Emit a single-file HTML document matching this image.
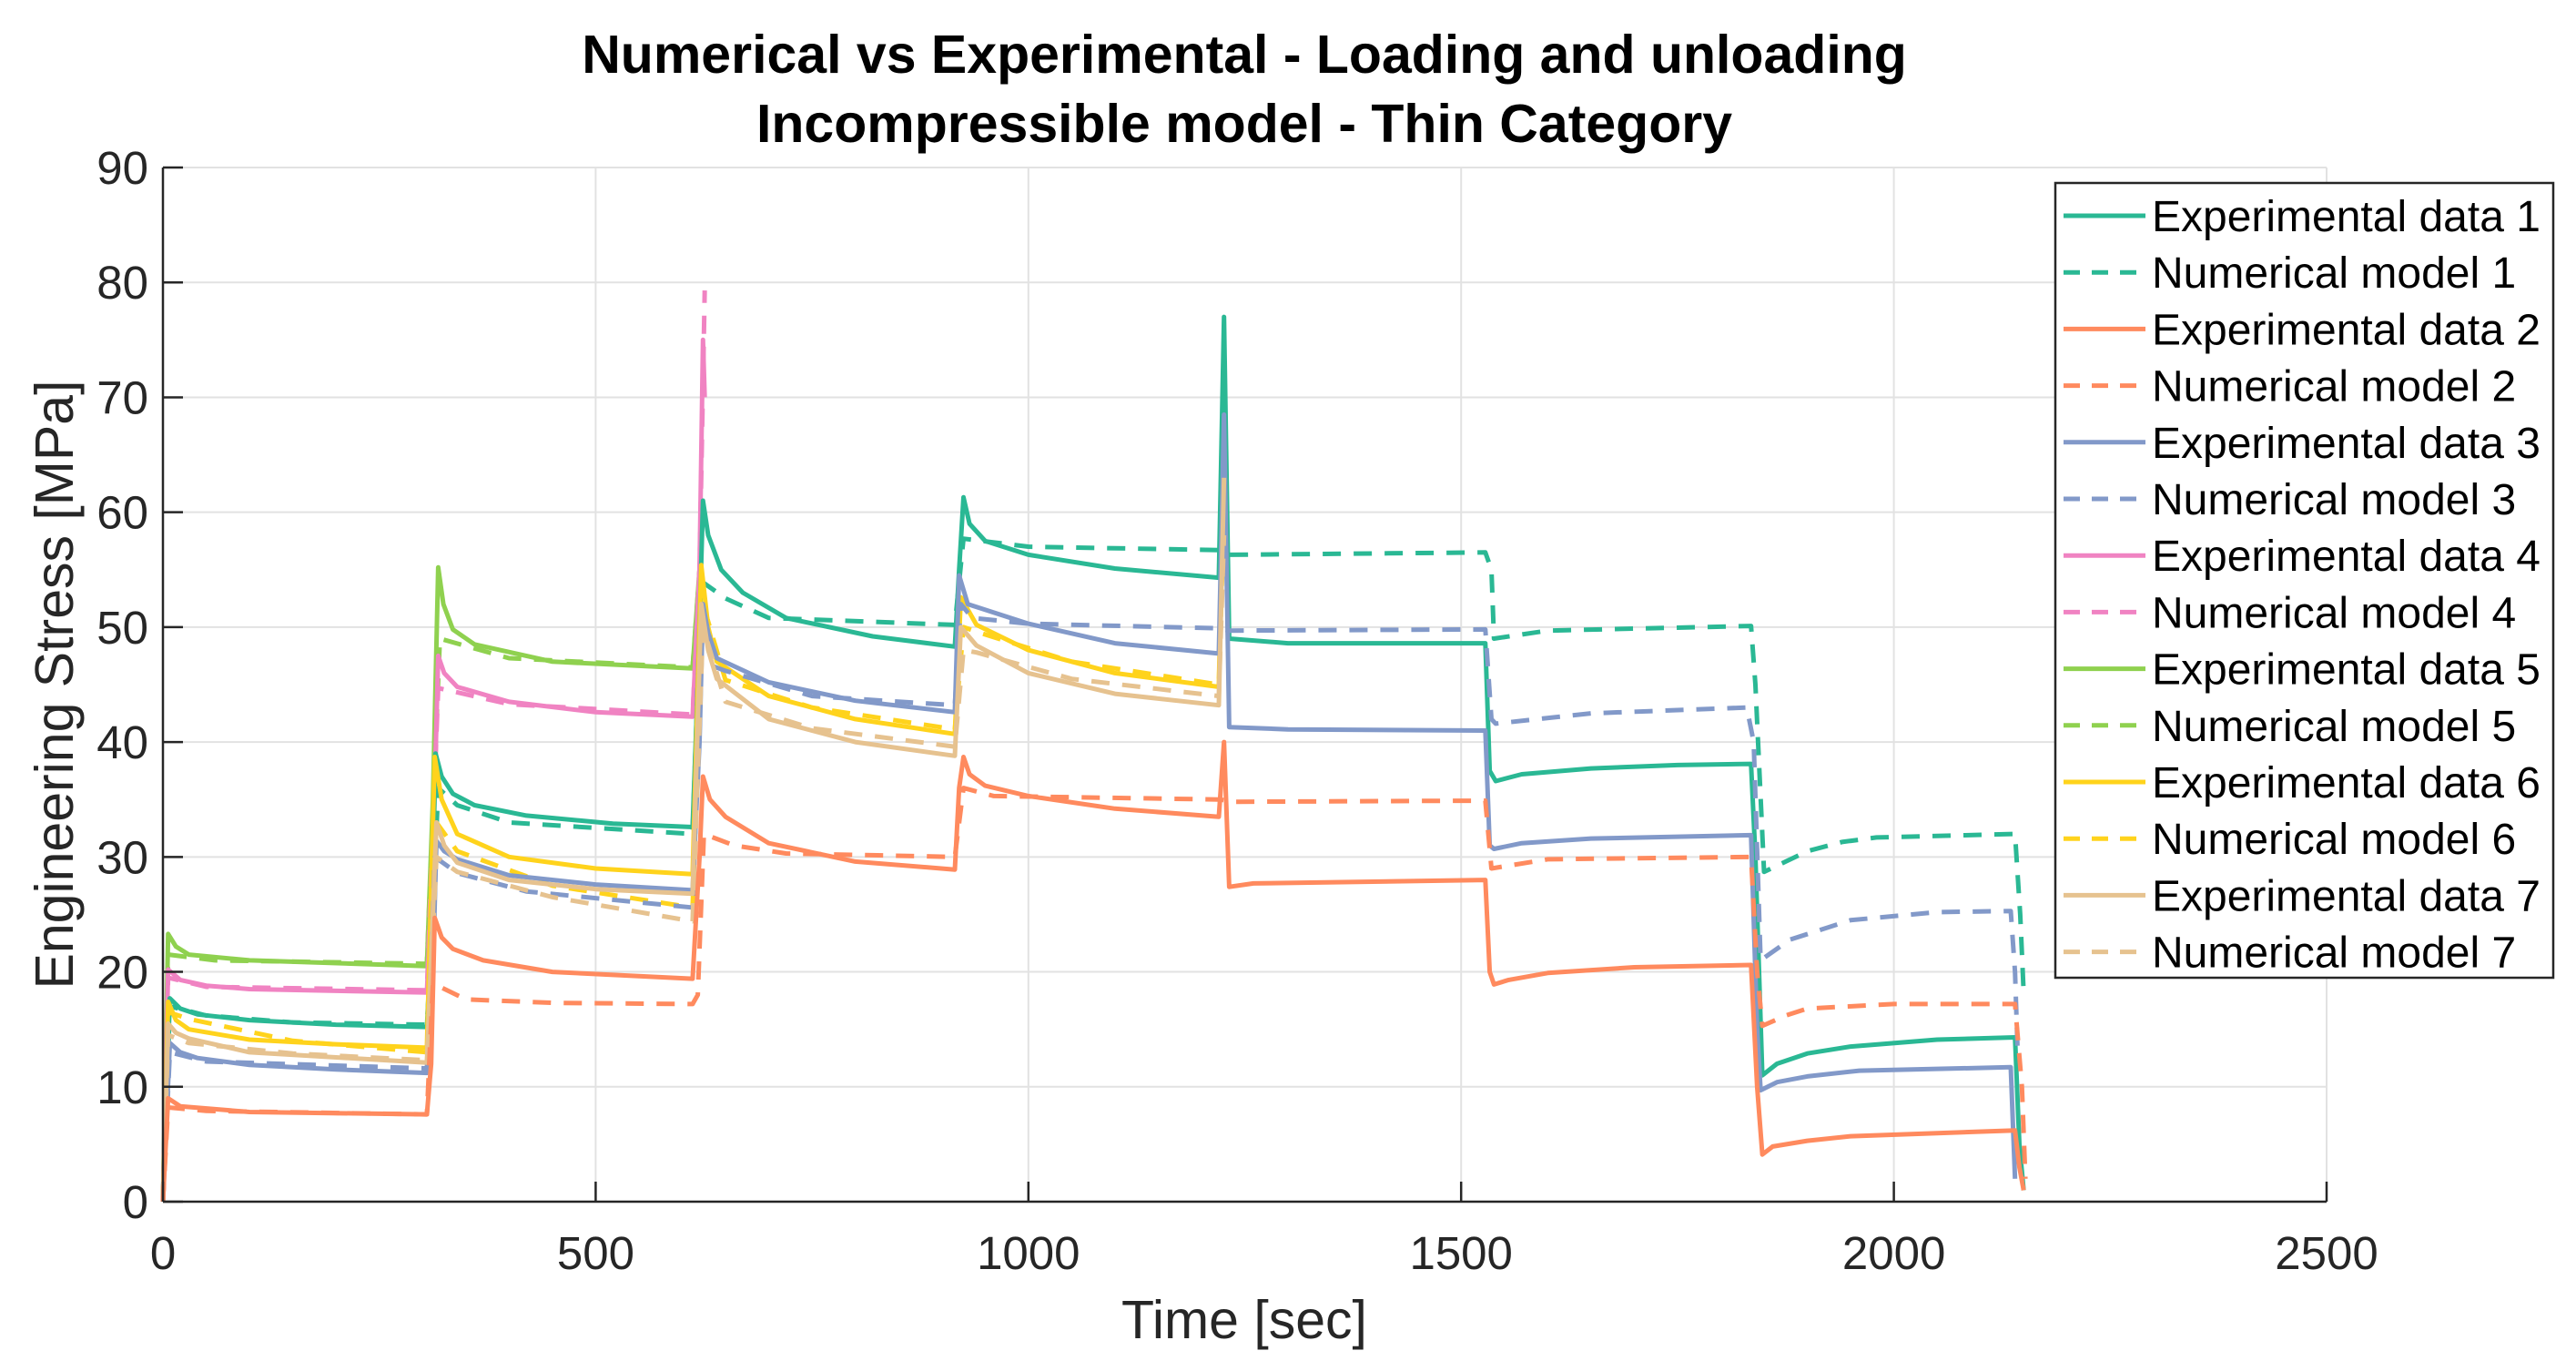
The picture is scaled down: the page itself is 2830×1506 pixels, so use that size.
<!DOCTYPE html>
<html><head><meta charset="utf-8"><style>
html,body{margin:0;padding:0;background:#fff;}
svg{display:block;font-family:"Liberation Sans",Arial,sans-serif;}
</style></head><body>
<svg id="chart" width="2830" height="1506" viewBox="0 0 2830 1506" xmlns="http://www.w3.org/2000/svg">
<rect x="0" y="0" width="2830" height="1506" fill="#fff"/>
<g id="grid"></g>
<g id="series"></g>
<g id="axes"></g>
<text x="1367" y="80" font-size="59" font-weight="bold" text-anchor="middle" fill="#000">Numerical vs Experimental - Loading and unloading</text>
<text x="1367" y="156" font-size="59" font-weight="bold" text-anchor="middle" fill="#000">Incompressible model - Thin Category</text>
<text x="1367" y="1470" font-size="59" text-anchor="middle" fill="#262626">Time [sec]</text>
<text x="0" y="0" font-size="59" text-anchor="middle" fill="#262626" transform="translate(80,752) rotate(-90)">Engineering Stress [MPa]</text>
<g id="legend"></g>
</svg>
<script>
const xTicks = [0, 500, 1000, 1500, 2000, 2500];
const yTicks = [0, 10, 20, 30, 40, 50, 60, 70, 80, 90];
const seriesNames = ["Experimental data 1","Numerical model 1","Experimental data 2","Numerical model 2","Experimental data 3","Numerical model 3","Experimental data 4","Numerical model 4","Experimental data 5","Numerical model 5","Experimental data 6","Numerical model 6","Experimental data 7","Numerical model 7"];
const exp1 = [[0,0],[8,17.7],[20,16.8],[40,16.3],[100,15.8],[200,15.4],[305,15.2],[310,22],[315,39],[322,37],[335,35.5],[360,34.5],[420,33.6],[520,32.9],[612,32.6],[618,45],[624,61],[630,58],[645,55],[670,53],[720,50.8],[820,49.2],[915,48.3],[920,55],[925,61.3],[932,59],[950,57.5],[1000,56.3],[1100,55.1],[1220,54.3],[1226,77],[1232,49],[1300,48.6],[1528,48.6],[1533,37.5],[1540,36.6],[1570,37.2],[1650,37.7],[1750,38],[1835,38.1],[1840,30],[1848,11],[1865,12],[1900,12.9],[1950,13.5],[2050,14.1],[2140,14.3],[2145,5],[2150,1]];
const num1 = [[0,0],[8,17],[50,16.2],[150,15.6],[305,15.4],[312,25],[318,36],[340,34.5],[400,33],[612,32],[622,54],[650,52.5],[700,50.8],[915,50.2],[925,57.7],[1000,57],[1220,56.7],[1232,56.3],[1528,56.5],[1535,55],[1538,49],[1600,49.7],[1835,50.1],[1840,45],[1850,28.7],[1875,29.6],[1900,30.5],[1940,31.3],[1980,31.7],[2140,32],[2146,25],[2150,18.2]];
const exp2 = [[0,0],[6,9],[20,8.3],[100,7.8],[305,7.6],[310,12],[314,24.7],[322,23],[335,22],[370,21],[450,20],[612,19.4],[620,30],[624,37],[632,35],[650,33.5],[700,31.2],[800,29.6],[915,28.9],[920,36],[925,38.7],[932,37.2],[950,36.2],[1000,35.3],[1100,34.2],[1220,33.5],[1226,40],[1232,27.4],[1260,27.7],[1528,28],[1533,20],[1538,18.9],[1555,19.3],[1600,19.9],[1700,20.4],[1835,20.6],[1842,10],[1848,4.1],[1860,4.8],[1900,5.3],[1950,5.7],[2140,6.2],[2145,3],[2150,1]];
const num2 = [[0,0],[6,8.2],[50,7.9],[305,7.6],[312,19],[350,17.6],[450,17.3],[612,17.2],[618,18],[625,32],[660,31],[720,30.3],[915,30],[925,36],[960,35.3],[1220,35],[1240,34.8],[1528,34.9],[1535,29],[1600,29.8],[1835,30],[1842,20],[1848,15.3],[1875,16.2],[1900,16.8],[2000,17.2],[2140,17.2],[2148,10],[2152,2]];
const exp3 = [[0,0],[8,13.8],[20,13],[40,12.5],[100,11.9],[200,11.5],[305,11.2],[312,20],[316,31.4],[325,30.5],[340,29.8],[400,28.4],[500,27.6],[612,27.1],[620,40],[624,52],[630,49.5],[640,47.3],[700,45.2],[800,43.6],[915,42.6],[920,54.5],[930,52],[1000,50.3],[1100,48.6],[1220,47.7],[1226,68.5],[1232,41.3],[1300,41.1],[1528,41],[1533,31],[1538,30.7],[1570,31.2],[1650,31.6],[1835,31.9],[1842,15],[1846,9.7],[1865,10.4],[1900,10.9],[1960,11.4],[2135,11.7],[2140,2]];
const num3 = [[0,0],[8,13],[50,12.2],[305,11.6],[314,30],[340,28.6],[420,27],[612,25.6],[622,47],[650,46.2],[750,44],[915,43.2],[922,52],[935,50.8],[1000,50.3],[1220,49.9],[1232,49.7],[1528,49.8],[1535,42],[1540,41.6],[1650,42.5],[1830,43],[1838,40],[1846,21],[1880,22.8],[1950,24.5],[2050,25.2],[2135,25.3],[2140,20],[2143,13]];
const exp4 = [[0,0],[6,20.2],[20,19.3],[50,18.8],[100,18.5],[305,18.2],[312,30],[318,47.5],[325,46],[340,44.8],[400,43.5],[500,42.6],[612,42.2],[620,55],[624,75],[626,70]];
const num4 = [[0,0],[6,19.5],[50,18.7],[305,18.4],[318,44.7],[400,43.3],[612,42.4],[620,55],[626,79.3]];
const exp5 = [[0,0],[6,23.3],[15,22.2],[30,21.5],[100,21],[305,20.5],[312,35],[318,55.2],[324,52],[335,49.8],[360,48.5],[450,47],[612,46.4],[620,55],[623,60]];
const num5 = [[0,0],[6,21.5],[60,21],[305,20.7],[320,49],[400,47.3],[612,46.5],[622,57]];
const exp6 = [[0,0],[6,17.4],[15,15.8],[30,15],[100,14.1],[200,13.7],[305,13.4],[314,38.7],[322,35],[340,32],[400,30],[500,29],[612,28.5],[622,55.4],[630,50],[640,47],[700,44],[800,42],[915,40.7],[922,52.6],[940,50.2],[1000,48],[1100,46],[1220,44.8],[1226,66]];
const num6 = [[0,0],[6,16.5],[30,15.9],[150,14],[305,13],[316,33],[340,30.5],[450,27.5],[612,25.6],[624,52],[650,45.4],[750,43],[915,41.1],[925,50],[940,49.6],[1050,47],[1220,45],[1226,60]];
const exp7 = [[0,0],[6,15.5],[15,14.7],[30,14.2],[100,13],[305,12.1],[316,33],[325,31],[340,29.5],[400,28],[500,27.2],[612,26.8],[622,52],[630,48],[640,45.5],[700,42],[800,40],[915,38.8],[922,50],[940,48.4],[1000,46],[1100,44.2],[1220,43.2],[1226,63]];
const num7 = [[0,0],[6,14.5],[30,13.8],[150,12.9],[305,12.3],[316,30],[340,28.7],[450,26.5],[612,24.4],[624,50],[650,43.5],[750,41.2],[915,39.6],[925,48],[940,47.8],[1050,45.5],[1220,44],[1226,58]];

const NS = "http://www.w3.org/2000/svg";
const L = 179, R = 2556, T = 184, B = 1320;
const X = t => L + (t - 0) / 2500 * (R - L);
const Y = v => B - (v - 0) / 90 * (B - T);
const colors = ["#2ab894","#2ab894","#ff8a5e","#ff8a5e","#8299c9","#8299c9","#f083c2","#f083c2","#8fd14f","#8fd14f","#ffd31c","#ffd31c","#e6c28f","#e6c28f"];
const data = [exp1,num1,exp2,num2,exp3,num3,exp4,num4,exp5,num5,exp6,num6,exp7,num7];
function mk(tag, attrs){const e=document.createElementNS(NS,tag);for(const k in attrs)e.setAttribute(k,attrs[k]);return e;}

const grid = document.getElementById('grid');
const axes = document.getElementById('axes');
xTicks.forEach(t=>{
  const g = mk('line',{x1:X(t),x2:X(t),y1:T,y2:B,stroke:'#e2e2e2','stroke-width':2});
  
  
  grid.appendChild(g);
  const tk = mk('line',{x1:X(t),x2:X(t),y1:B,y2:B-22,stroke:'#262626','stroke-width':2.5});
  
  
  axes.appendChild(tk);
  const lb = mk('text',{x:X(t),y:B+74,'font-size':51,'text-anchor':'middle',fill:'#262626'});
  lb.textContent = t;
  
  
  axes.appendChild(lb);
});
yTicks.forEach(v=>{
  const g = mk('line',{x1:L,x2:R,y1:Y(v),y2:Y(v),stroke:'#e2e2e2','stroke-width':2});
  
  
  grid.appendChild(g);
  const tk = mk('line',{x1:L,x2:L+22,y1:Y(v),y2:Y(v),stroke:'#262626','stroke-width':2.5});
  
  
  axes.appendChild(tk);
  const lb = mk('text',{x:L-16,y:Y(v)+18,'font-size':51,'text-anchor':'end',fill:'#262626'});
  lb.textContent = v;
  
  
  axes.appendChild(lb);
});
const xa = mk('line',{x1:L,x2:R,y1:B,y2:B,stroke:'#262626','stroke-width':2.5});


axes.appendChild(xa);
const ya = mk('line',{x1:L,x2:L,y1:T,y2:B,stroke:'#262626','stroke-width':2.5});


axes.appendChild(ya);

const sg = document.getElementById('series');
const order = [8,9,6,7,0,1,10,11,4,5,12,13,2,3];
order.forEach(i=>{
  const pts = data[i].map(p=>X(p[0]).toFixed(1)+','+Y(p[1]).toFixed(1)).join(' ');
  const attrs = {points:pts,fill:'none',stroke:colors[i],'stroke-width':5,'stroke-linejoin':'round'};
  if(i%2===1) attrs['stroke-dasharray']='20 14';
  const pl = mk('polyline',attrs);
  
  
  sg.appendChild(pl);
});

const lg = document.getElementById('legend');
const box = mk('rect',{x:2258,y:201,width:547,height:873,fill:'#fff',stroke:'#262626','stroke-width':2.5});


lg.appendChild(box);
seriesNames.forEach((n,i)=>{
  const cy = 237 + i*62.2;
  const ln = mk('line',{x1:2267,x2:2357,y1:cy,y2:cy,stroke:colors[i],'stroke-width':5});
  if(i%2===1) ln.setAttribute('stroke-dasharray','18 13');
  
  
  lg.appendChild(ln);
  const tx = mk('text',{x:2364,y:cy+17,'font-size':48,fill:'#000'});
  tx.textContent = n;
  
  
  lg.appendChild(tx);
});
</script>
</body></html>
